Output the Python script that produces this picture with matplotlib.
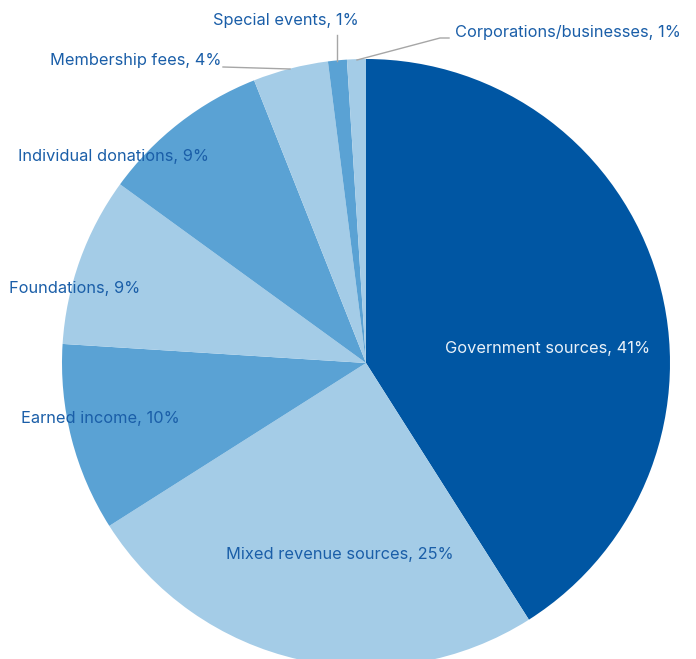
import matplotlib
matplotlib.use('Agg')
import matplotlib.pyplot as plt

plt.rcParams['font.family'] = ['Inter', 'DejaVu Sans']

# Revenue share by source (percent), clockwise from 12 o'clock
sources = ['Government sources', 'Mixed revenue sources', 'Earned income',
           'Foundations', 'Individual donations', 'Membership fees',
           'Special events', 'Corporations/businesses']
shares = [41, 25, 10, 9, 9, 4, 1, 1]

dark = '#0056A3'
mid = '#5AA2D4'
light = '#A4CCE7'
colors = [dark, light, mid, light, mid, light, mid, light]
text_blue = '#1A5EA8'

W, H = 696, 659
fig = plt.figure(figsize=(W / 100, H / 100), dpi=100)
ax = fig.add_axes([0, 0, 1, 1])

def py(y):
    # pixel row -> data y
    return H - y

cx, cy, r = 366, py(363), 304
ax.pie(shares, colors=colors, startangle=90, counterclock=False,
       center=(cx, cy), radius=r, frame=True,
       wedgeprops=dict(linewidth=0))
ax.set_xlim(0, W)
ax.set_ylim(0, H)
ax.axis('off')

labels = [f'{s}, {v}%' for s, v in zip(sources, shares)]
fs = 11.8

# labels sitting inside the wedges
ax.text(548, py(349), labels[0], color='#EAF1F8', fontsize=fs, ha='center', va='center')
ax.text(340, py(555), labels[1], color=text_blue, fontsize=fs, ha='center', va='center')
ax.text(100, py(418), labels[2], color=text_blue, fontsize=fs, ha='center', va='center')
ax.text(75, py(288), labels[3], color=text_blue, fontsize=fs, ha='center', va='center')
ax.text(113, py(157), labels[4], color=text_blue, fontsize=fs, ha='center', va='center')

# small wedges get labels outside with leader lines
lc = '#A6A6A6'
ax.text(222, py(61), labels[5], color=text_blue, fontsize=fs, ha='right', va='center')
ax.plot([223, 290], [py(67), py(69)], color=lc, lw=1)
ax.text(286, py(21), labels[6], color=text_blue, fontsize=fs, ha='center', va='center')
ax.plot([337, 337], [py(35), py(61)], color=lc, lw=1)
ax.text(455, py(32), labels[7], color=text_blue, fontsize=fs, ha='left', va='center')
ax.plot([449, 440, 357], [py(38), py(38), py(60)], color=lc, lw=1)

fig.savefig('out.png', dpi=100)
